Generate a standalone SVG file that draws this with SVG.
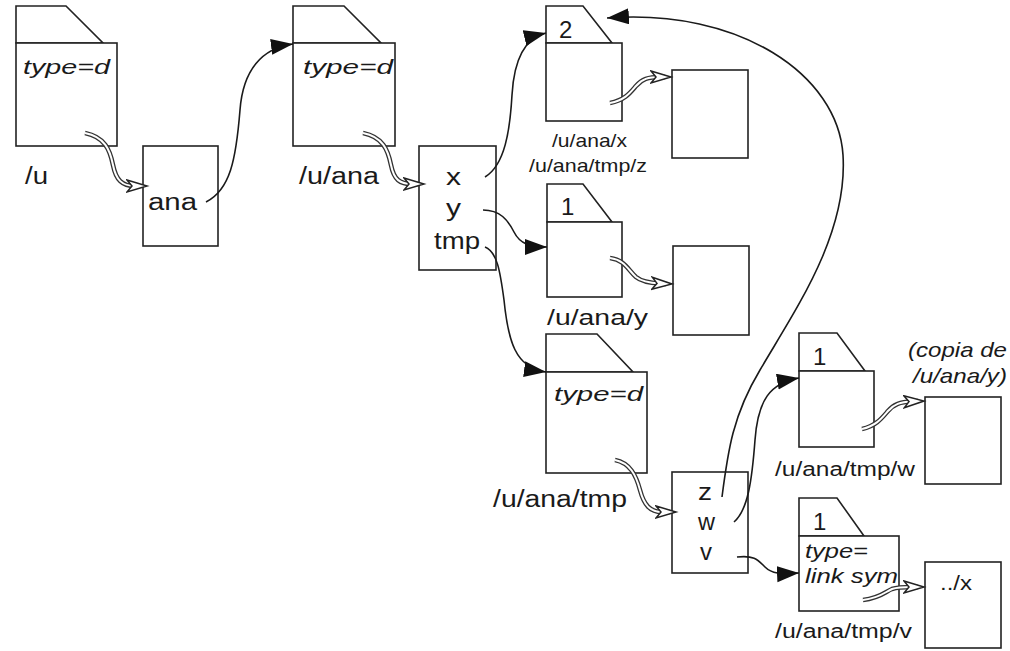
<svg xmlns="http://www.w3.org/2000/svg" width="1010" height="651" viewBox="0 0 1010 651">
  <style>
    .box { fill: #fff; stroke: #222; stroke-width: 1.6; }
    .tab { fill: #fff; stroke: #222; stroke-width: 1.6; stroke-linejoin: miter; }
    .t { font-family: "Liberation Sans", Arial, sans-serif; fill: #1a1a1a; }
    .it { font-style: italic; }
    .link { fill: none; stroke: #1a1a1a; stroke-width: 1.6; marker-end: url(#solid); }
    .dbl-out { fill: none; stroke: #333; stroke-width: 4.6; }
    .dbl-in { fill: none; stroke: #fff; stroke-width: 2; marker-end: url(#hollow); }
  </style>
  <defs>
    <marker id="solid" markerUnits="userSpaceOnUse" markerWidth="24" markerHeight="18" refX="22" refY="8" orient="auto">
      <path d="M0,0 L22,8 L0,16 z" fill="#111"/>
    </marker>
    <marker id="hollow" markerUnits="userSpaceOnUse" markerWidth="24" markerHeight="16" refX="21" refY="7" orient="auto">
      <path d="M1,1 L21,7 L1,13 L6,7 z" fill="#fff" stroke="#222" stroke-width="1.5" stroke-linejoin="miter"/>
    </marker>
  </defs>

  <rect width="1010" height="651" fill="#fff"/>

  <!-- inode of /u -->
  <g id="inode-u">
    <polygon class="tab" points="16,43 16,6 66,6 103,43"/>
    <rect class="box" x="16" y="43" width="101" height="103"/>
    <text class="t it" x="23" y="74" font-size="21" textLength="87" lengthAdjust="spacingAndGlyphs">type=d</text>
    <text class="t" x="25" y="184" font-size="23" textLength="23" lengthAdjust="spacingAndGlyphs">/u</text>
  </g>

  <!-- data block of /u -->
  <g id="data-u">
    <rect class="box" x="143" y="146" width="75" height="100"/>
    <text class="t" x="148" y="210" font-size="23" textLength="49" lengthAdjust="spacingAndGlyphs">ana</text>
  </g>

  <!-- inode of /u/ana -->
  <g id="inode-ana">
    <polygon class="tab" points="293,43 293,6 344,6 381,43"/>
    <rect class="box" x="293" y="43" width="102" height="103"/>
    <text class="t it" x="303" y="74" font-size="21" textLength="90" lengthAdjust="spacingAndGlyphs">type=d</text>
    <text class="t" x="299" y="184" font-size="23" textLength="80" lengthAdjust="spacingAndGlyphs">/u/ana</text>
  </g>

  <!-- data block of /u/ana -->
  <g id="data-ana">
    <rect class="box" x="419" y="146" width="77" height="124"/>
    <text class="t" x="446" y="185" font-size="24" textLength="15" lengthAdjust="spacingAndGlyphs">x</text>
    <text class="t" x="446" y="216" font-size="24" textLength="15" lengthAdjust="spacingAndGlyphs">y</text>
    <text class="t" x="434" y="249" font-size="23" textLength="46" lengthAdjust="spacingAndGlyphs">tmp</text>
  </g>

  <!-- inode of /u/ana/x (two links) -->
  <g id="inode-x">
    <polygon class="tab" points="546,43 546,6 583,6 612,43"/>
    <rect class="box" x="546" y="43" width="76" height="78"/>
    <text class="t" x="559" y="38" font-size="24">2</text>
    <text class="t" x="552" y="147" font-size="19" textLength="75" lengthAdjust="spacingAndGlyphs">/u/ana/x</text>
    <text class="t" x="529" y="172" font-size="19" textLength="118" lengthAdjust="spacingAndGlyphs">/u/ana/tmp/z</text>
  </g>
  <g id="data-x">
    <rect class="box" x="672" y="70" width="76" height="88"/>
  </g>

  <!-- inode of /u/ana/y -->
  <g id="inode-y">
    <polygon class="tab" points="547,222 547,184 583,184 612,222"/>
    <rect class="box" x="547" y="222" width="75" height="75"/>
    <text class="t" x="561" y="215" font-size="24">1</text>
    <text class="t" x="547" y="325" font-size="22" textLength="101" lengthAdjust="spacingAndGlyphs">/u/ana/y</text>
  </g>
  <g id="data-y">
    <rect class="box" x="673" y="246" width="76" height="89"/>
  </g>

  <!-- inode of /u/ana/tmp -->
  <g id="inode-tmp">
    <polygon class="tab" points="546,372 546,334 597,334 633,372"/>
    <rect class="box" x="546" y="372" width="101" height="101"/>
    <text class="t it" x="554" y="401" font-size="21" textLength="89" lengthAdjust="spacingAndGlyphs">type=d</text>
    <text class="t" x="493" y="507" font-size="23" textLength="134" lengthAdjust="spacingAndGlyphs">/u/ana/tmp</text>
  </g>

  <!-- data block of /u/ana/tmp -->
  <g id="data-tmp">
    <rect class="box" x="672" y="472" width="76" height="101"/>
    <text class="t" x="698" y="500" font-size="23" textLength="14" lengthAdjust="spacingAndGlyphs">z</text>
    <text class="t" x="698" y="530" font-size="23" textLength="17" lengthAdjust="spacingAndGlyphs">w</text>
    <text class="t" x="700" y="560" font-size="23" textLength="12" lengthAdjust="spacingAndGlyphs">v</text>
  </g>

  <!-- inode of /u/ana/tmp/w -->
  <g id="inode-w">
    <polygon class="tab" points="799,371 799,333 837,333 865,371"/>
    <rect class="box" x="799" y="371" width="75" height="76"/>
    <text class="t" x="813" y="365" font-size="24">1</text>
    <text class="t" x="775" y="476" font-size="20" textLength="140" lengthAdjust="spacingAndGlyphs">/u/ana/tmp/w</text>
  </g>
  <g id="data-w">
    <text class="t it" x="908" y="357" font-size="21" textLength="99" lengthAdjust="spacingAndGlyphs">(copia de</text>
    <text class="t it" x="913" y="383" font-size="21" textLength="94" lengthAdjust="spacingAndGlyphs">/u/ana/y)</text>
    <rect class="box" x="925" y="397" width="76" height="87"/>
  </g>

  <!-- inode of /u/ana/tmp/v (symbolic link) -->
  <g id="inode-v">
    <polygon class="tab" points="799,536 799,498 837,498 864,536"/>
    <rect class="box" x="799" y="536" width="100" height="75"/>
    <text class="t" x="813" y="530" font-size="24">1</text>
    <text class="t it" x="805" y="558" font-size="21" textLength="63" lengthAdjust="spacingAndGlyphs">type=</text>
    <text class="t it" x="805" y="583" font-size="21" textLength="93" lengthAdjust="spacingAndGlyphs">link sym</text>
    <text class="t" x="775" y="638" font-size="20" textLength="137" lengthAdjust="spacingAndGlyphs">/u/ana/tmp/v</text>
  </g>
  <g id="data-v">
    <rect class="box" x="925" y="562" width="76" height="86"/>
    <text class="t" x="940" y="590" font-size="21" textLength="32" lengthAdjust="spacingAndGlyphs">../x</text>
  </g>

  <!-- connectors: directory entries (single) and inode-to-block pointers (double) -->
  <g id="connectors">
    <path class="link" d="M206,202 C230,190 236,160 240,110 C243,70 262,48 293,44"/>
    <path class="link" d="M485,177 C505,165 510,130 512,95 C514,60 525,38 546,33"/>
    <path class="link" d="M483,210 C500,210 508,220 514,232 C520,244 530,247 547,247"/>
    <path class="link" d="M485,247 C497,252 500,270 504,300 C508,340 515,368 546,372"/>
    <path class="link" d="M734,522 C748,510 752,480 755,440 C758,400 770,383 799,378"/>
    <path class="link" d="M737,557 C755,555 758,560 765,567 C772,574 780,574 799,573"/>
    <path class="link" d="M722,497 C728,450 733,415 760,370 C795,310 848,235 843,155 C838,75 740,8 607,18"/>

    <path class="dbl-out" d="M85,133 C105,137 110,150 113,165 C116,180 122,186 135,186 L140,186"/>
    <path class="dbl-in" d="M85,133 C105,137 110,150 113,165 C116,180 122,186 135,186 L147,186"/>

    <path class="dbl-out" d="M363,133 C383,137 388,150 391,165 C394,180 400,184 412,184 L418,184"/>
    <path class="dbl-in" d="M363,133 C383,137 388,150 391,165 C394,180 400,184 412,184 L424,184"/>

    <path class="dbl-out" d="M610,103 C625,100 630,93 636,86 C642,79 648,77 660,77 L665,77"/>
    <path class="dbl-in" d="M610,103 C625,100 630,93 636,86 C642,79 648,77 660,77 L671,77"/>

    <path class="dbl-out" d="M610,258 C625,260 628,270 636,277 C642,282 650,283 660,283.5 L666,284"/>
    <path class="dbl-in" d="M610,258 C625,260 628,270 636,277 C642,282 650,283 660,283.5 L672,284"/>

    <path class="dbl-out" d="M615,460 C630,463 636,475 640,490 C644,505 650,512 662,512 L670,512"/>
    <path class="dbl-in" d="M615,460 C630,463 636,475 640,490 C644,505 650,512 662,512 L676,512"/>

    <path class="dbl-out" d="M862,429 C876,426 882,418 888,411 C894,404 900,402 912,401.5 L918,401"/>
    <path class="dbl-in" d="M862,429 C876,426 882,418 888,411 C894,404 900,402 912,401.5 L924,401"/>

    <path class="dbl-out" d="M863,600 C880,598 885,592 892,589 C898,587 905,587 912,587 L918,587"/>
    <path class="dbl-in" d="M863,600 C880,598 885,592 892,589 C898,587 905,587 912,587 L924,587"/>
  </g>
</svg>
